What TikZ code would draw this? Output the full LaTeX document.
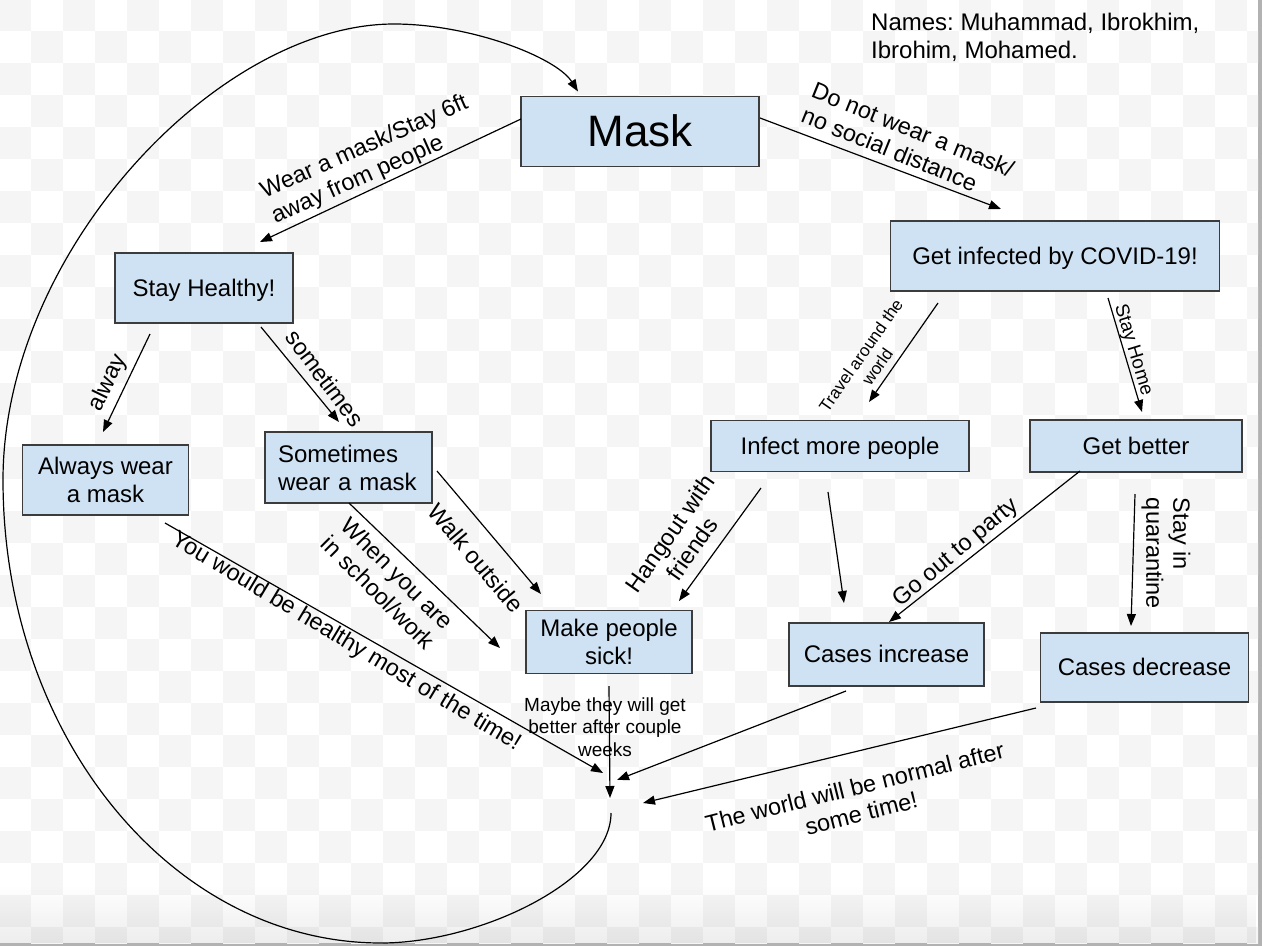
\documentclass[tikz,border=0pt]{standalone}
\usepackage{fontspec}
\setmainfont{Liberation Sans}
\frenchspacing
\usetikzlibrary{arrows.meta,fadings}
\definecolor{boxfill}{HTML}{CFE2F3}
\definecolor{boxline}{HTML}{3C3C3C}
\definecolor{chk}{HTML}{F5F5F5}
\definecolor{framegray}{HTML}{B2B2B2}
\begin{document}
\begin{tikzpicture}[x=1pt,y=-1pt,
  box/.style={draw=boxline, fill=boxfill, line width=1.3pt, inner sep=0pt, align=center, font=\fontsize{24}{28}\selectfont},
  oneline/.style={text height=21.7pt, text depth=5.1pt},
  lbl/.style={inner sep=0pt, align=center, font=\fontsize{23.5}{27}\selectfont},
  smalllbl/.style={inner sep=0pt, align=center, font=\fontsize{19}{22.5}\selectfont},
  arr/.style={line width=1.2pt, -{Triangle[length=12pt,width=9pt]}}]
\useasboundingbox (0,0) rectangle (1262,946);
% background
\fill[framegray] (0,0) rectangle (1262,946);
\begin{scope}
\clip (0,0) rectangle (1258,943);
\fill[white] (0,0) rectangle (1258,943);
\foreach \r in {0,...,29}{
  \foreach \c in {0,...,39}{
    \pgfmathtruncatemacro{\chkpar}{mod(\r+\c,2)}
    \ifnum\chkpar=0 \fill[chk] (32*\c-1,32*\r-1) rectangle ++(32,32);\fi
  }}
\fill[black, opacity=0.07, path fading=north] (0,885) rectangle (1258,943);
\end{scope}

% names
\node[inner sep=0pt, align=left, anchor=north west, font=\fontsize{24}{28.5}\selectfont] (names) at (871,12.5) {Names: Muhammad, Ibrokhim,\\Ibrohim, Mohamed.};

% boxes
\node[box, minimum width=238, minimum height=70, font=\fontsize{44}{50}\selectfont, text height=39.8pt, text depth=9.3pt] (mask) at (640,131.5) {Mask};
\node[box, oneline, minimum width=178, minimum height=70] (sh) at (204,288) {Stay Healthy!};
\node[box, oneline, minimum width=329, minimum height=70] (inf) at (1055,256) {Get infected by COVID-19!};
\node[box, minimum width=166, minimum height=70] (aw) at (105.5,480) {Always wear\\a mask};
\node[box, minimum width=167, minimum height=71, text width=141, inner xsep=13pt, align=left] (sw) at (348.5,467.5) {Sometimes\\wear a mask};
\node[box, oneline, minimum width=258, minimum height=51] (imp) at (840,446) {Infect more people};
\node[box, oneline, minimum width=212, minimum height=52] (gb) at (1136,446) {Get better};
\node[box, minimum width=166, minimum height=63] (mps) at (609,642) {Make people\\sick!};
\node[box, oneline, minimum width=195, minimum height=63] (ci) at (886.5,654.5) {Cases increase};
\node[box, oneline, minimum width=208, minimum height=69] (cd) at (1144.5,667.5) {Cases decrease};

\coordinate (conv) at (610,790);
\coordinate (loopstart) at (611,813);

% connectors
\draw[arr] ([shift={(-119,-12.5)}]mask.center) -- ([shift={(56,-46)}]sh.center);
\draw[arr] ([shift={(120,-13.5)}]mask.center) -- ([shift={(-54,-47)}]inf.center);
\draw[arr] ([shift={(-54,46)}]sh.center) -- ([shift={(-2.5,-48)}]aw.center);
\draw[arr] ([shift={(57,39)}]sh.center) -- ([shift={(-9.5,-45.5)}]sw.center);
\draw[arr] ([shift={(88.5,3.5)}]sw.center) -- ([shift={(-68,-48)}]mps.center);
\draw[arr] ([shift={(0.5,35.5)}]sw.center) -- ([shift={(-109,6)}]mps.center);
\draw[arr] ([shift={(59.5,43)}]aw.center) -- ([shift={(-7,-17)}]conv);
\draw[arr] ([shift={(0,44)}]mps.center) -- ([shift={(0,8)}]conv);
\draw[arr] ([shift={(-40.5,36.5)}]ci.center) -- ([shift={(7,-10)}]conv);
\draw[arr] ([shift={(-108.5,40.5)}]cd.center) -- ([shift={(33,13)}]conv);
\draw[arr] ([shift={(-79,42)}]imp.center) -- ([shift={(70,-41)}]mps.center);
\draw[arr] ([shift={(-12,46)}]imp.center) -- ([shift={(-42.5,-51.5)}]ci.center);
\draw[arr] ([shift={(-56,25)}]gb.center) -- ([shift={(2.5,-32.5)}]ci.center);
\draw[arr] ([shift={(-1,48)}]gb.center) -- ([shift={(-13.5,-41.5)}]cd.center);
\draw[arr] ([shift={(-117,47)}]inf.center) -- ([shift={(29,-44)}]imp.center);
\draw[arr] ([shift={(53,42)}]inf.center) -- ([shift={(6,-34)}]gb.center);
\draw[arr] (loopstart) .. controls (611,880) and (480,943) .. (381,943)
  .. controls (172,943) and (3,736) .. (3,480)
  .. controls (3,252) and (218,24) .. (394,24)
  .. controls (470,24) and (556,57) .. ([shift={(-62,-40)}]mask.center);

% labels
\node[lbl, align=left, rotate=24] (l1) at (370,160) {Wear a mask/Stay 6ft\\away from people};
\node[lbl, align=left, rotate=-22] (l2) at (908,142) {Do not wear a mask/\\no social distance};
\node[lbl, rotate=64] (l3) at (108,383) {alway};
\node[lbl, rotate=-53] (l4) at (325,378) {sometimes};
\node[lbl, rotate=-50] (l5) at (476,558) {Walk outside};
\node[lbl, rotate=-45] (l6) at (388,583) {When you are\\in school/work};
\node[lbl, rotate=-31] (l7) at (346,642) {You would be healthy most of the time!};
\node[smalllbl] (l8) at (605,727) {Maybe they will get\\better after couple\\weeks};
\node[lbl, rotate=55] (l9) at (681,541) {Hangout with\\friends};
\node[lbl, rotate=40] (l10) at (956,553) {Go out to party};
\node[lbl, align=left, rotate=-90] (l11) at (1166,553.5) {Stay in\\quarantine};
\node[inner sep=0pt, align=center, font=\fontsize{17}{20}\selectfont, rotate=55] (l12) at (869,361) {Travel around the\\world};
\node[smalllbl, rotate=-73] (l13) at (1133,350) {Stay Home};
\node[lbl, rotate=14] (l14) at (858,800) {The world will be normal after\\some time!};
\end{tikzpicture}
\end{document}
